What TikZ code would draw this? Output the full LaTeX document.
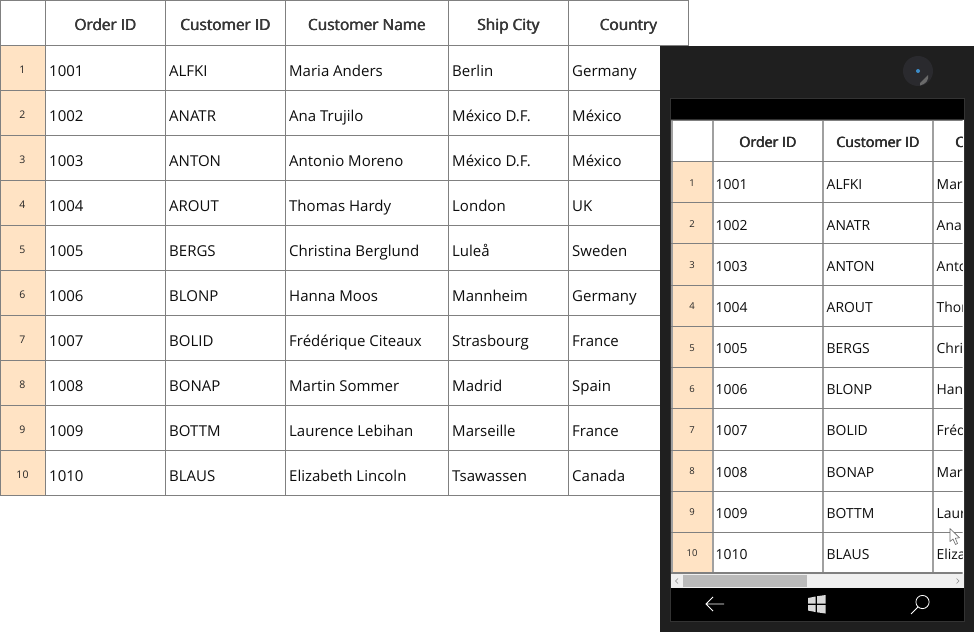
\documentclass[tikz,border=0pt]{standalone}
\usepackage{fontspec}
\setmainfont{Open Sans}
\newcommand{\heavytext}[1]{\rlap{#1}\kern0.28pt\rlap{#1}\kern0.28pt#1}
\definecolor{gridc}{HTML}{808080}
\definecolor{phonegrid}{HTML}{A0A0A0}
\definecolor{rowhead}{HTML}{FFE3C4}
\definecolor{bodyc}{HTML}{1F1F1F}
\definecolor{edgec}{HTML}{333333}
\definecolor{camc}{HTML}{2A2A2E}
\definecolor{camw}{HTML}{6A6A6A}
\definecolor{camd}{HTML}{3C8CC8}
\newcommand{\fsize}[1]{\fontsize{#1pt}{#1pt}\selectfont}
\tikzset{
 x=1pt,y=-1pt,
 gridline/.style={draw=gridc,line width=1pt},
 pgridline/.style={draw=gridc,line width=1.1pt},
 pvline/.style={draw=phonegrid,line width=1.5pt},
 headcell/.style={anchor=base,inner sep=0pt,text=black!78,font=\fsize{15.4}},
 bodycell/.style={anchor=base west,inner sep=0pt,text=black!95,font=\fsize{15}},
 numcell/.style={anchor=base,inner sep=0pt,text=black!85,font=\fsize{10.5}},
 pheadcell/.style={anchor=base,inner sep=0pt,text=black!82,font=\fsize{14.2}},
 pbodycell/.style={anchor=base west,inner sep=0pt,text=black!95,font=\fsize{13.9}},
 pnumcell/.style={anchor=base,inner sep=0pt,text=black!85,font=\fsize{9.5}},
 navicon/.style={draw=white,line width=0.8pt},
}
\begin{document}
\begin{tikzpicture}
\useasboundingbox (0,0) rectangle (974,632);
\fill[white] (0,0) rectangle (974,632);
% ---- main grid
\fill[rowhead] (0.5,45.5) rectangle (45.5,495.5);
\foreach \xx in {0.5,45.5,165.5,285.5,448.5,568.5,688.5}
  \draw[gridline] (\xx,0) -- (\xx,45.5);
\foreach \xx in {0.5,45.5,165.5,285.5,448.5,568.5}
  \draw[gridline] (\xx,45.5) -- (\xx,495.5);
\draw[gridline] (0,0.5) -- (689,0.5);
\draw[gridline] (0,45.5) -- (689,45.5);
\foreach \r in {1,...,10}
  \draw[gridline] (0,45.5+45*\r) -- (661,45.5+45*\r);
\node[headcell] (h1) at (105.5,30) {\heavytext{Order ID}};
\node[headcell] (h2) at (225.5,30) {\heavytext{Customer ID}};
\node[headcell] (h3) at (367,30) {\heavytext{Customer Name}};
\node[headcell] (h4) at (508.5,30) {\heavytext{Ship City}};
\node[headcell] (h5) at (628.5,30) {\heavytext{Country}};
\foreach \r/\oid/\cid/\nm/\city/\ctry in {
 1/1001/ALFKI/Maria Anders/Berlin/Germany,
 2/1002/ANATR/Ana Trujilo/México D.F./México,
 3/1003/ANTON/Antonio Moreno/México D.F./México,
 4/1004/AROUT/Thomas Hardy/London/UK,
 5/1005/BERGS/Christina Berglund/Luleå/Sweden,
 6/1006/BLONP/Hanna Moos/Mannheim/Germany,
 7/1007/BOLID/Frédérique Citeaux/Strasbourg/France,
 8/1008/BONAP/Martin Sommer/Madrid/Spain,
 9/1009/BOTTM/Laurence Lebihan/Marseille/France,
 10/1010/BLAUS/Elizabeth Lincoln/Tsawassen/Canada}{
  \pgfmathsetmacro{\yy}{76+45*(\r-1)}
  \node[numcell] (n\r) at (22.5,\yy-3) {\r};
  \node[bodycell] (a\r) at (49,\yy) {\oid};
  \node[bodycell] (b\r) at (169,\yy) {\cid};
  \node[bodycell] (c\r) at (289,\yy) {\nm};
  \node[bodycell] (d\r) at (452,\yy) {\city};
  \node[bodycell] (e\r) at (572,\yy) {\ctry};
}
% ---- phone
\fill[bodyc] (660,46) rectangle (974,632);
\fill[edgec] (670,98) rectangle (965,622);
\fill[black] (671,99) rectangle (964,119);
\fill[white] (671,120) rectangle (964,574);
% camera
\fill[camc] (918,71) circle (15);
\fill[camw] (920,83) -- (928,75) .. controls (929,80) and (926,84) .. (920,85.5) -- cycle;
\fill[camd] (918,71) circle (2);
% phone grid
\fill[rowhead] (672,161.5) rectangle (713,573);
\begin{scope}
\clip (671,120) rectangle (962.7,574);
\foreach \xx in {713,823,933,672}
  \draw[pvline] (\xx,120) -- (\xx,573);
\draw[pgridline] (671,120) -- (964,120);
\foreach \yy in {161.5,202.5,243.5,285.5,326.5,367.5,408.5,450.5,491.5,532.5,573}
  \draw[pgridline] (671,\yy) -- (964,\yy);
\node[pheadcell] (ph1) at (768,147) {\heavytext{Order ID}};
\node[pheadcell] (ph2) at (878,147) {\heavytext{Customer ID}};
\node[pheadcell,anchor=base west] (ph3) at (955,147) {\heavytext{Customer Name}};
\foreach \r/\oid/\cid/\nm in {
 1/1001/ALFKI/Maria Anders,
 2/1002/ANATR/Ana Trujilo,
 3/1003/ANTON/Antonio Moreno,
 4/1004/AROUT/Thomas Hardy,
 5/1005/BERGS/Christina Berglund,
 6/1006/BLONP/Hanna Moos,
 7/1007/BOLID/Frédérique Citeaux,
 8/1008/BONAP/Martin Sommer,
 9/1009/BOTTM/Laurence Lebihan,
 10/1010/BLAUS/Elizabeth Lincoln}{
  \pgfmathsetmacro{\yy}{189+41.15*(\r-1)}
  \node[pnumcell] (pn\r) at (692,\yy-2.5) {\r};
  \node[pbodycell] (pa\r) at (715.5,\yy) {\oid};
  \node[pbodycell] (pb\r) at (826.5,\yy) {\cid};
  \node[pbodycell] (pc\r) at (936.5,\yy) {\nm};
}
\end{scope}
% scrollbar
\fill[black!6] (671,574) rectangle (964,587.5);
\fill[black!27] (683,575) rectangle (807,587);
\draw[black!45,line width=0.6pt] (678,578.5) -- (675.5,581) -- (678,583.5);
\draw[black!45,line width=0.6pt] (956.5,578.5) -- (959,581) -- (956.5,583.5);
% nav bar
\fill[black] (671,588) rectangle (964,621);
\draw[navicon] (724,604) -- (706,604) (713,597) -- (706,604) -- (713,611);
\fill[white!85!black] (808,598) -- (815.5,596.5) -- (815.5,603.5) -- (808,603.5) -- cycle
  (817,596.2) -- (825.5,595) -- (825.5,603.5) -- (817,603.5) -- cycle
  (808,605) -- (815.5,605) -- (815.5,612) -- (808,610.5) -- cycle
  (817,605) -- (825.5,605) -- (825.5,613.5) -- (817,612.3) -- cycle;
\draw[navicon] (922.5,602) circle (6.6);
\draw[navicon] (918,607) -- (911,614);
% cursor
\draw[draw=black!60,fill=white,line width=0.6pt,line join=round] (950,528.5) -- (950,541.5) -- (953,539) -- (955.5,544.5) -- (957.5,543.5) -- (955.3,538.2) -- (959.5,537.8) -- cycle;
\end{tikzpicture}
\end{document}
